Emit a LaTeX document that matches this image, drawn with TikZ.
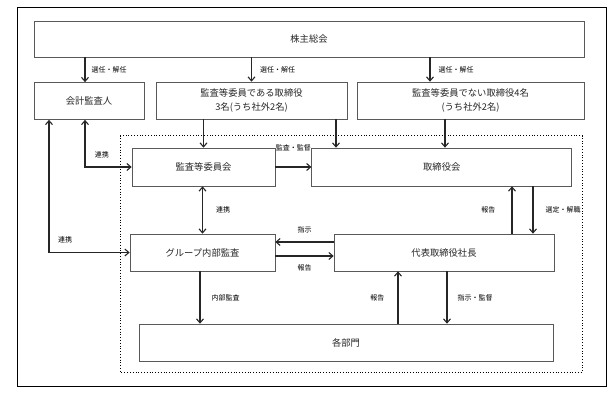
\documentclass[tikz,border=0pt]{standalone}
\usepackage{fontspec}
\setmainfont{Noto Sans CJK JP}
\usepackage{xcolor}
\usetikzlibrary{arrows.meta, positioning, calc}
\tikzset{
  box/.style   ={rectangle, draw=black!65, line width=0.7pt, align=center,
                 font=\fontsize{9.3}{14}\selectfont, text=black!85, inner sep=0pt},
  arrow/.style ={-{Straight Barb[length=4pt, width=7pt]}, line width=1.1pt, black!85},
  darrow/.style={{Straight Barb[length=4pt, width=7pt]}-{Straight Barb[length=4pt, width=7pt]},
                 line width=1.1pt, black!85},
  lbl/.style   ={font=\fontsize{7}{8}\selectfont, text=black, inner sep=1pt}
}

\begin{document}
\begin{tikzpicture}[x=1pt, y=-1pt,
  frame/.style={draw=black, line width=1.5pt},
  group/.style={draw=black, dotted, line width=0.8pt}
]
\useasboundingbox (0,0) rectangle (616,392);
\draw[frame] (17.3,7.3) rectangle (606.7,386.7);
\draw[group] (120,135.5) rectangle (582.5,372);

\node[box, minimum width=550pt, minimum height=36pt] (soukai) at (309,39) {株主総会};
\node[box, minimum width=110pt, minimum height=37pt] (kaikei) at (89,101) {会計監査人};
\node[box, minimum width=191pt, minimum height=37pt] (kansa) at (251.5,100.5)
      {監査等委員である取締役\\3名(うち社外2名)};
\node[box, minimum width=227pt, minimum height=37pt] (hikansa) at (470.5,100.5)
      {監査等委員でない取締役4名\\(うち社外2名)};
\node[box, minimum width=143pt, minimum height=38pt] (iinkai) at (203.5,167) {監査等委員会};
\node[box, minimum width=260pt, minimum height=38pt] (torishimari) at (441.75,167) {取締役会};
\node[box, minimum width=145pt, minimum height=37pt] (naibu) at (202.5,252.5) {グループ内部監査};
\node[box, minimum width=220pt, minimum height=37pt] (shacho) at (444,252.5) {代表取締役社長};
\node[box, minimum width=414pt, minimum height=37pt] (bumon) at (346,342.5) {各部門};

% 株主総会から
\draw[arrow] ([xshift=-4pt]kaikei.north |- soukai.south) --
  node[lbl, right=5pt]{選任・解任} ([xshift=-4pt]kaikei.north);
\draw[arrow] (kansa.north |- soukai.south) --
  node[lbl, right=7pt]{選任・解任} (kansa.north);
\draw[arrow] ([xshift=-40.5pt]hikansa.north |- soukai.south) --
  node[lbl, right=7pt]{選任・解任} ([xshift=-40.5pt]hikansa.north);

% 会計監査人との連携
\draw[darrow] ([xshift=-4pt]kaikei.south) |-
  node[lbl, pos=0.68, above=7pt]{連携} (iinkai.west);
\draw[darrow] ([xshift=-40pt]kaikei.south) |-
  node[lbl, pos=0.6, above=8pt]{連携} (naibu.west);

% 取締役から
\draw[arrow] (iinkai.north |- kansa.south) -- (iinkai.north);
\draw[arrow] ([xshift=84.5pt]kansa.south) -- ([xshift=84.5pt]kansa.south |- torishimari.north);
\draw[arrow] ([xshift=-25.5pt]hikansa.south) -- ([xshift=-25.5pt]hikansa.south |- torishimari.north);

\draw[arrow] (iinkai) -- node[lbl, above=14pt]{監査・監督} (torishimari);
\draw[darrow] (naibu.north |- iinkai.south) -- node[lbl, right=12pt]{連携} (naibu.north);

% 内部監査と社長
\draw[arrow] ([yshift=10.5pt]shacho.west) --
  node[lbl, above=7pt]{指示} ([yshift=10.5pt]shacho.west -| naibu.east);
\draw[arrow] ([yshift=-3.5pt]naibu.east) --
  node[lbl, below=7pt]{報告} ([yshift=-3.5pt]naibu.east -| shacho.west);

\draw[arrow] ([xshift=68pt]shacho.north) --
  node[lbl, left=15pt]{報告} ([xshift=68pt]shacho.north |- torishimari.south);
\draw[arrow] ([xshift=89pt]shacho.north |- torishimari.south) --
  node[lbl, right=11pt]{選定・解職} ([xshift=89pt]shacho.north);

% 各部門へ
\draw[arrow] ([xshift=-2.5pt]naibu.south) --
  node[lbl, right=10pt]{内部監査} ([xshift=-2.5pt]naibu.south |- bumon.north);
\draw[arrow] ([xshift=52pt]bumon.north) --
  node[lbl, left=12pt]{報告} ([xshift=52pt]bumon.north |- shacho.south);
\draw[arrow] ([xshift=3pt]shacho.south) --
  node[lbl, right=9pt]{指示・監督} ([xshift=3pt]shacho.south |- bumon.north);

\end{tikzpicture}
\end{document}
